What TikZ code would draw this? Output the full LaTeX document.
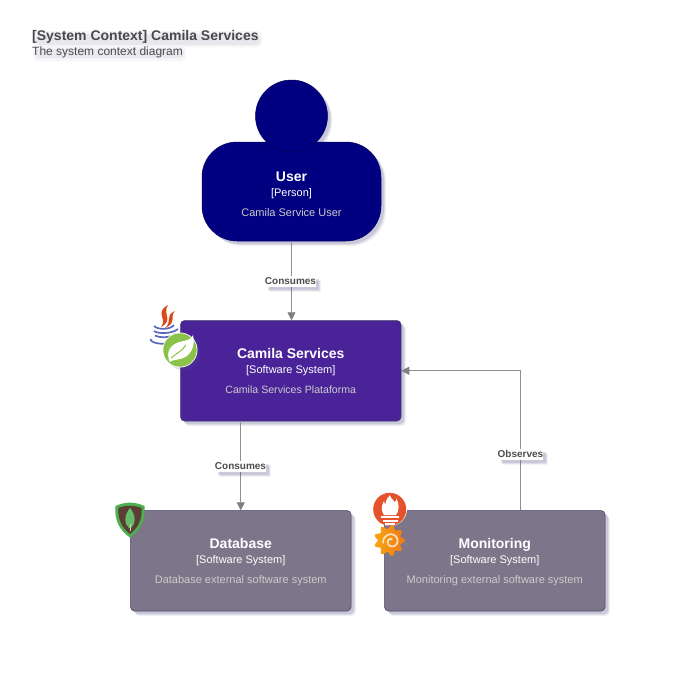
\documentclass[tikz,border=0pt]{standalone}
\usepackage{fontspec}
\setmainfont{Liberation Sans}
\usetikzlibrary{shadows,arrows.meta}
\definecolor{navyc}{HTML}{000080}
\definecolor{purplec}{HTML}{4A2399}
\definecolor{greyc}{HTML}{7D7589}
\definecolor{borderc}{HTML}{3F3560}
\definecolor{shadc}{HTML}{55558A}
\definecolor{linec}{HTML}{8F8F8F}
\definecolor{tipc}{HTML}{7F7F7F}
\definecolor{descc}{HTML}{CCCCCC}
\definecolor{titlec}{HTML}{4A4A4A}
\definecolor{flamec}{HTML}{D9491A}
\definecolor{cupc}{HTML}{5869BE}
\definecolor{springc}{HTML}{8BC34A}
\definecolor{mongoc}{HTML}{4CAF50}
\definecolor{mongob}{HTML}{5A3E34}
\definecolor{mongol}{HTML}{66BB6A}
\definecolor{mongos}{HTML}{C8DCAA}
\definecolor{promc}{HTML}{E6522C}
\definecolor{grafa}{HTML}{F8A612}
\definecolor{grafb}{HTML}{F07819}
\definecolor{grafw}{HTML}{FBE3BC}
\tikzset{
  softshadow/.style={
    general shadow={shadow xshift=5pt,shadow yshift=-5pt,fill=shadc,opacity=.07},
    general shadow={shadow xshift=4pt,shadow yshift=-4pt,fill=shadc,opacity=.12},
    general shadow={shadow xshift=3pt,shadow yshift=-3pt,fill=shadc,opacity=.16}},
  sysbox/.style={softshadow,draw=borderc,line width=.5pt,rounded corners=4pt,minimum width=220.5pt,minimum height=100.5pt,
    inner sep=0pt,text=white,align=center,font=\fontsize{11}{15}\selectfont},
  personbox/.style={sysbox,draw=navyc!80!black,fill=navyc,rounded corners=35pt,minimum width=179pt,minimum height=99pt},
  headc/.style={circle,draw=navyc!70!black,line width=.5pt,fill=navyc,minimum size=72pt,inner sep=0pt},
  flowlabel/.style={softshadow,fill=white,inner sep=0pt,text=black!70,minimum height=11pt,font=\fontsize{10}{11}\selectfont\bfseries},
  flow/.style={draw=linec,line width=.8pt,-{Triangle[length=8pt,width=8pt,color=tipc,fill=tipc]}},
  heading/.style={anchor=west,inner sep=0pt,text=titlec},
  smudge/.style={fill=shadc,rounded corners=4pt},
}
\newcommand{\boxtext}[3]{{\fontsize{14}{15}\selectfont\bfseries #1}\\{#2}\\[5pt]{\color{descc}#3}}
\begin{document}
\begin{tikzpicture}[x=1pt,y=-1pt]
\useasboundingbox (0,0) rectangle (681,681);
\fill[white] (0,0) rectangle (681,681);

% title soft shadows
\fill[smudge,opacity=.05] (33,31) rectangle (262,47);
\fill[smudge,opacity=.09] (36,34) rectangle (260,45);
\fill[smudge,opacity=.05] (33,47) rectangle (186,61);
\fill[smudge,opacity=.08] (35,49) rectangle (184,58);
\node[heading,font=\fontsize{14}{16}\selectfont\bfseries] (title) at (32,37) {[System Context] Camila Services};
\node[heading,font=\fontsize{12}{14}\selectfont,text=black!70] (subtitle) at (32,52) {The system context diagram};

% person
\foreach \s/\o in {5/.07,4/.12,3/.16}{\fill[shadc,opacity=\o] (291.5+\s,116+\s) circle (36);}
\node[personbox] (user) at (291.5,191.5) {\boxtext{\rule{0pt}{16pt}User}{[Person]}{Camila Service User}};
\node[headc] (head) at (291.5,116) {};

% systems
\node[sysbox,fill=purplec] (camila) at (290.75,370.75) {\boxtext{Camila Services}{[Software System]}{\fontsize{10.6}{15}\selectfont Camila Services Plataforma}};
\node[sysbox,fill=greyc] (db) at (240.75,560.75) {\boxtext{\rule{0pt}{12pt}Database}{[Software System]}{Database external software system}};
\node[sysbox,fill=greyc] (mon) at (494.75,560.75) {\boxtext{\rule{0pt}{12pt}Monitoring}{[Software System]}{Monitoring external software system}};

% connectors
\coordinate (elbow) at (520.5,370.75);
\draw[flow] (user.south) -- (user.south |- camila.north);
\draw[flow] (db.north |- camila.south) -- (db.north);
\draw[flow] (elbow |- mon.north) -- (elbow) -- (camila.east);

\node[flowlabel] (l1) at (290.5,281) {Consumes};
\node[flowlabel] (l2) at (240.5,466) {Consumes};
\node[flowlabel] (l3) at (520.5,454) {Observes};

% Java icon
\fill[flamec] (168,305) .. controls (154,313) and (168,318) .. (161,327) .. controls (174,320) and (162,314) .. (168,305) -- cycle;
\fill[flamec] (175,311) .. controls (164,316) and (173,321) .. (165,328) .. controls (178,322) and (169,317) .. (175,311) -- cycle;
\begin{scope}[draw=cupc,line width=1.7pt]
\draw (154,326) .. controls (158,330) and (170,330) .. (174,325);
\draw (154,331) .. controls (158,334) and (172,334) .. (178,329);
\draw (155,335.5) .. controls (160,338) and (170,338) .. (175,334);
\draw (150.5,339) .. controls (150,344.5) and (172,346) .. (179,340);
\end{scope}

% Spring icon
\fill[shadc,opacity=.18] (183,353) circle (17);
\fill[white] (180,350) circle (17.5);
\fill[springc] (180,350) circle (16.7);
\fill[white] (169,360) .. controls (165,347) and (176,342) .. (184,341) .. controls (189,340) and (192,338) .. (193,335)
  .. controls (196,347) and (190,357) .. (180,359) .. controls (176,360) and (172,360) .. (170,362) -- cycle;
\draw[springc,line width=1pt] (171,358) .. controls (177,353) and (182,351) .. (186,345);

% MongoDB icon
\fill[mongoc] (115.5,506) .. controls (125,501.5) and (135,501.5) .. (144.5,506) .. controls (146,520) and (140,531) .. (130,537.5) .. controls (120,531) and (114,520) .. (115.5,506) -- cycle;
\fill[mongob] (118.5,508) .. controls (126,505) and (134,505) .. (141.5,508) .. controls (142.5,519) and (138,528) .. (130,534) .. controls (122,528) and (117.5,519) .. (118.5,508) -- cycle;
\fill[mongol] (130,508) .. controls (124,515) and (124,524) .. (129,528) -- (131,528) .. controls (136,524) and (136,515) .. (130,508) -- cycle;
\draw[mongos,line width=.8pt] (130,524) -- (130,531);

% Prometheus icon
\fill[white] (390,509) circle (17);
\fill[promc] (389.7,509.3) circle (16.5);
\fill[white] (390,495) .. controls (391,500) and (394,499) .. (394.5,502) .. controls (396,501) and (397,500) .. (396,498) .. controls (400,503) and (399,512) .. (396,515) -- (384,515) .. controls (381,511) and (381,506) .. (384,501) .. controls (384,503) and (385,504) .. (386,504) .. controls (385,500) and (388,498) .. (390,495) -- cycle;
\fill[white] (381,515.5) rectangle (399,518);
\fill[white] (382.5,519.5) rectangle (397.5,521.5);
\fill[white] (385,522.5) rectangle (395,525);

% Grafana icon
\shade[left color=grafa,right color=grafb]
  plot[domain=0:360,samples=181] ({389.5+(13.6+2*cos(9*\x))*cos(\x)},{540.5+(13.6+2*cos(9*\x))*sin(\x)}) -- cycle;
\draw[grafw,line width=1.7pt,line cap=round]
  plot[domain=170:640,samples=60] ({391.5+(8.5-(\x-170)*.013)*cos(\x)},{541.5+(8.5-(\x-170)*.013)*sin(\x)});
\end{tikzpicture}
\end{document}
